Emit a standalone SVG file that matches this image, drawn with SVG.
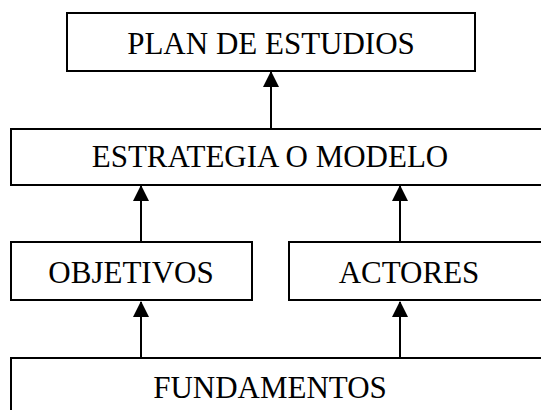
<svg xmlns="http://www.w3.org/2000/svg" width="541" height="410" viewBox="0 0 541 410">
<style>
.box{fill:#fff;stroke:#000;stroke-width:2}
.lbl{font-family:"Liberation Serif","Times New Roman",serif;font-size:31px;fill:#000;text-anchor:middle}
.con{stroke:#000;stroke-width:2;fill:none;marker-end:url(#ah)}
</style>
<defs>
<marker id="ah" markerWidth="8" markerHeight="8" refX="7.5" refY="4" orient="auto" markerUnits="strokeWidth"><path d="M0,0 L8,4 L0,8 Z" fill="#000"/></marker>
</defs>
<rect width="541" height="410" fill="#fff"/>
<g id="plan"><rect class="box" x="67" y="13" width="408" height="58"/><text class="lbl" x="271" y="54">PLAN DE ESTUDIOS</text></g>
<g id="estrategia"><rect class="box" x="11" y="129" width="540" height="56"/><text class="lbl" x="270" y="167">ESTRATEGIA O MODELO</text></g>
<g id="objetivos"><rect class="box" x="11" y="242" width="241" height="58"/><text class="lbl" x="131" y="283">OBJETIVOS</text></g>
<g id="actores"><rect class="box" x="289" y="242" width="262" height="58"/><text class="lbl" x="409" y="283">ACTORES</text></g>
<g id="fundamentos"><rect class="box" x="11" y="358" width="540" height="70"/><text class="lbl" x="270" y="398">FUNDAMENTOS</text></g>
<g id="connectors">
<line class="con" x1="271" y1="129" x2="271" y2="72"/>
<line class="con" x1="141" y1="242" x2="141" y2="186"/>
<line class="con" x1="400" y1="242" x2="400" y2="186"/>
<line class="con" x1="141" y1="358" x2="141" y2="302"/>
<line class="con" x1="400" y1="358" x2="400" y2="302"/>
</g>
</svg>
